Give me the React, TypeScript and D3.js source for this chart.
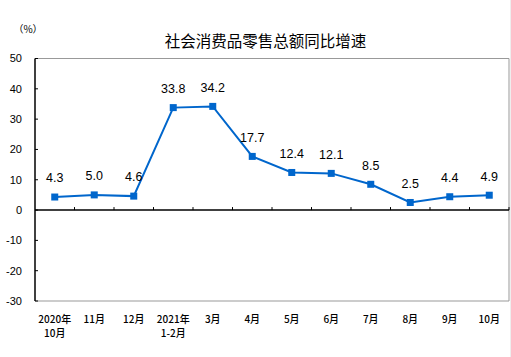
import React from "react";
import * as d3 from "d3";

const categories = ["2020年|10月", "11月", "12月", "2021年|1-2月", "3月", "4月", "5月", "6月", "7月", "8月", "9月", "10月"];
const values = [4.3, 5.0, 4.6, 33.8, 34.2, 17.7, 12.4, 12.1, 8.5, 2.5, 4.4, 4.9];
const yTicks = [50, 40, 30, 20, 10, 0, -10, -20, -30];
const title = "社会消费品零售总额同比增速";
const unit = "（%）";

export default function App() {
  const W = 511, H = 357;
  const left = 35, right = 509, top = 58.5, bottom = 301;
  const x = d3.scaleBand<string>().domain(categories).range([left, right]);
  const y = d3.scaleLinear().domain([-30, 50]).range([bottom, top]);
  const cx = (i: number) => (x(categories[i]) as number) + x.bandwidth() / 2;
  const line = d3.line<number>().x((_, i) => cx(i)).y((d) => y(d));
  const font = "'Liberation Sans', Arial, 'Noto Sans CJK SC', sans-serif";
  const cjk = "'Noto Sans CJK SC', sans-serif";
  const y0 = y(0);
  return (
    <svg width={W} height={H} style={{ position: "absolute", left: 0, top: 0, background: "#fff" }}>
      <rect x={510} y={0} width={1} height={H} fill="#eee" />
      <text x={265.5} y={42} dy="0.35em" textAnchor="middle" fontFamily={cjk} fontSize={15.5} fill="#000">{title}</text>
      <text x={28} y={29} dy="0.35em" textAnchor="middle" fontFamily={cjk} fontSize={10} fill="#000">{unit}</text>
      <line x1={left} x2={right} y1={top} y2={top} stroke="#999" strokeWidth={1} />
      <line x1={right} x2={right} y1={top} y2={bottom} stroke="#999" strokeWidth={1} />
      <line x1={left} x2={right} y1={bottom} y2={bottom} stroke="#999" strokeWidth={1} />
      <line x1={left} x2={left} y1={top} y2={bottom} stroke="#000" strokeWidth={1.5} />
      {yTicks.map((t) => (
        <g key={t}>
          <line x1={left} x2={left + 3} y1={y(t)} y2={y(t)} stroke="#000" />
          <text x={22} y={y(t)} dy="0.35em" textAnchor="end" fontFamily={font} fontSize={11} fill="#000">{t}</text>
        </g>
      ))}
      <line x1={left} x2={right} y1={y0} y2={y0} stroke="#000" strokeWidth={1.5} />
      {categories.map((c, i) => (
        <line key={"t" + i} x1={(x(c) as number) + x.bandwidth()} x2={(x(c) as number) + x.bandwidth()} y1={y0} y2={y0 - 3} stroke="#000" />
      ))}
      <path d={line(values) || ""} fill="none" stroke="#0066cc" strokeWidth={2} />
      {values.map((v, i) => (
        <rect key={"m" + i} x={cx(i) - 3.5} y={y(v) - 3.5} width={7} height={7} fill="#0066cc" />
      ))}
      {values.map((v, i) => (
        <text key={"l" + i} x={cx(i)} y={y(v) - 19} dy="0.35em" textAnchor="middle" fontFamily={font} fontSize={12.5} fill="#000">{v.toFixed(1)}</text>
      ))}
      {categories.map((c, i) => {
        const parts = c.split("|");
        return parts.map((p, j) => (
          <text key={"c" + i + j} x={cx(i)} y={319 + j * 14} dy="0.35em" textAnchor="middle" fontFamily={cjk} fontSize={10} fontWeight={500} fill="#000">{p}</text>
        ));
      })}
    </svg>
  );
}
